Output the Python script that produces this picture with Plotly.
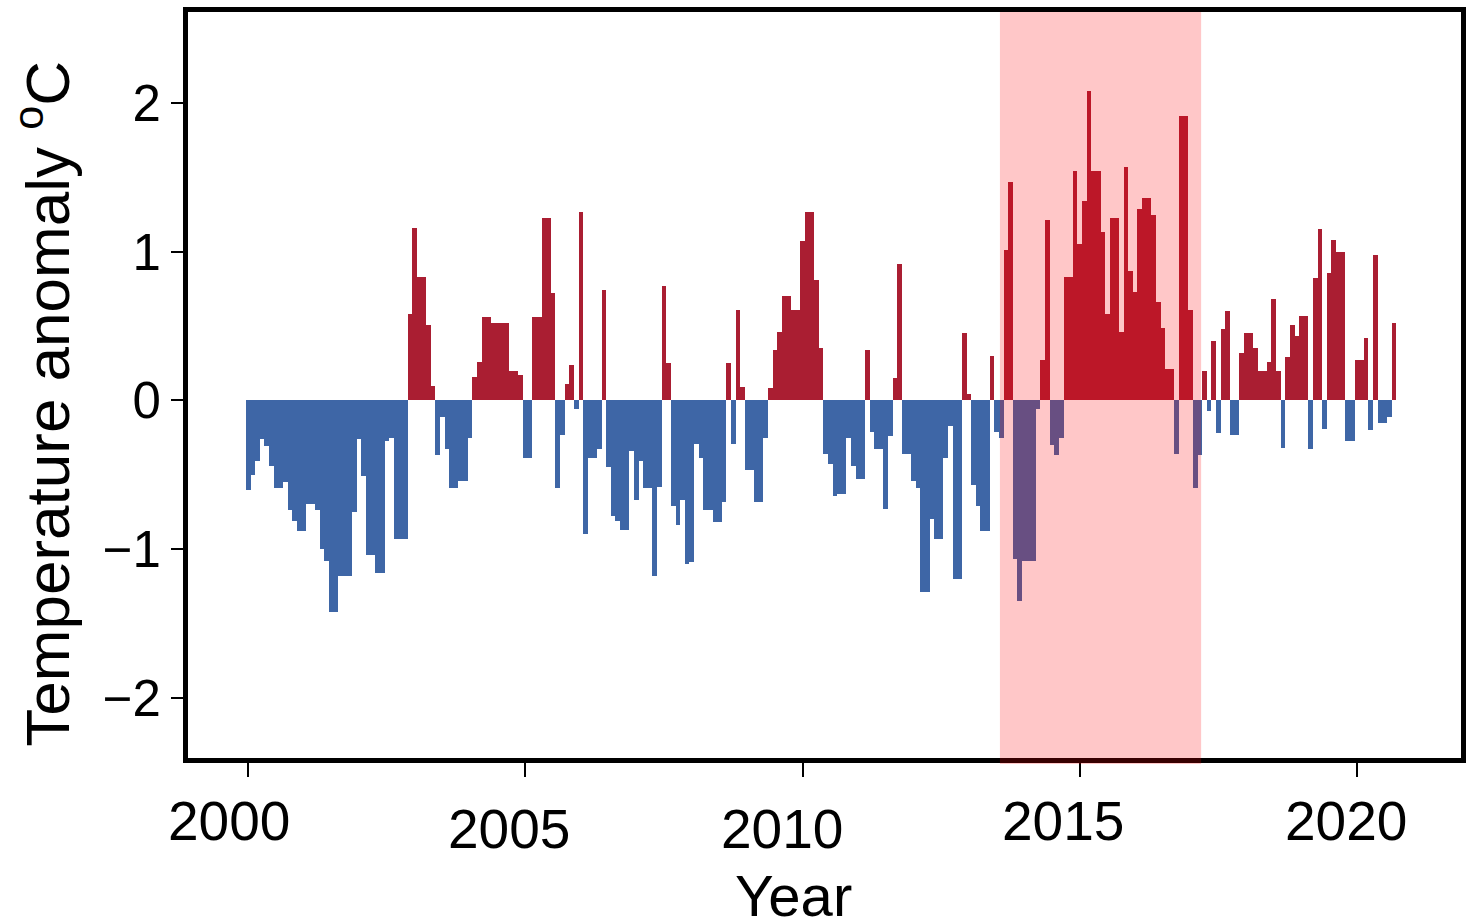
import plotly.graph_objects as go

# ---- data -------------------------------------------------------------
start_year = 2000
# monthly temperature anomaly (deg C), Jan 2000 .. Sep 2020
anomaly = [
    -0.60, -0.50, -0.41, -0.26, -0.31, -0.44, -0.59, -0.59, -0.55, -0.74, -0.81, -0.88,   # 2000
    -0.88, -0.70, -0.70, -0.74, -1.00, -1.08, -1.42, -1.42, -1.18, -1.18, -1.18, -0.75,   # 2001
    -0.26, -0.51, -1.04, -1.04, -1.16, -1.16, -0.27, -0.25, -0.93, -0.93, -0.93, 0.58,    # 2002
    1.16, 0.83, 0.83, 0.51, 0.10, -0.37, -0.11, -0.33, -0.59, -0.59, -0.54, -0.54,        # 2003
    -0.25, 0.16, 0.26, 0.56, 0.56, 0.52, 0.52, 0.52, 0.52, 0.20, 0.20, 0.17,              # 2004
    -0.39, -0.39, 0.56, 0.56, 1.23, 1.23, 0.72, -0.59, -0.23, 0.11, 0.24, -0.06,          # 2005
    1.27, -0.90, -0.39, -0.39, -0.33, 0.74, -0.45, -0.78, -0.81, -0.87, -0.87, -0.34,     # 2006
    -0.67, -0.41, -0.59, -0.59, -1.18, -0.58, 0.77, 0.25, -0.71, -0.84, -0.67, -1.10,     # 2007
    -1.09, -0.29, -0.39, -0.74, -0.74, -0.82, -0.82, -0.68, 0.25, -0.29, 0.61, 0.09,      # 2008
    -0.47, -0.47, -0.68, -0.68, -0.25, 0.08, 0.34, 0.46, 0.70, 0.70, 0.61, 0.61,          # 2009
    1.07, 1.27, 1.27, 0.81, 0.35, -0.36, -0.43, -0.64, -0.63, -0.63, -0.25, -0.44,        # 2010
    -0.53, -0.53, 0.34, -0.21, -0.33, -0.33, -0.73, -0.24, 0.15, 0.92, -0.36, -0.36,      # 2011
    -0.54, -0.59, -1.29, -1.29, -0.80, -0.93, -0.93, -0.39, -0.17, -1.20, -1.20, 0.45,    # 2012
    0.04, -0.57, -0.71, -0.88, -0.88, 0.30, -0.21, -0.25, 1.01, 1.47, -1.07, -1.35,       # 2013
    -1.08, -1.08, -1.08, -0.06, 0.27, 1.21, -0.30, -0.37, -0.25, 0.83, 0.83, 1.54,        # 2014
    1.05, 1.34, 2.08, 1.54, 1.54, 1.13, 0.58, 1.23, 1.23, 0.46, 1.57, 0.87,               # 2015
    0.73, 1.29, 1.36, 1.36, 1.25, 0.66, 0.49, 0.21, 0.21, -0.36, 1.91, 1.91,              # 2016
    0.61, -0.59, -0.37, 0.20, -0.07, 0.40, -0.22, 0.48, 0.60, -0.23, -0.23, 0.32,         # 2017
    0.45, 0.45, 0.35, 0.20, 0.20, 0.26, 0.68, 0.20, -0.32, 0.29, 0.51, 0.43,              # 2018
    0.57, 0.57, -0.33, 0.82, 1.15, -0.19, 0.86, 1.08, 1.00, 1.00, -0.27, -0.27,           # 2019
    0.27, 0.27, 0.42, -0.20, 0.98, -0.15, -0.15, -0.11, 0.52,                             # 2020
]
highlight_period = [2013.56, 2017.19]      # shaded warm period (decimal years)
year_ticks = [2000, 2005, 2010, 2015, 2020]
y_ticks = [-2, -1, 0, 1, 2]
y_tick_text = ["\u22122", "\u22121", "0", "1", "2"]

# ---- styling ----------------------------------------------------------
RED = "#AA1E32"
BLUE = "#3E66A6"
FONT = "Liberation Sans, Arial, sans-serif"

months = [start_year + i / 12 for i in range(len(anomaly))]
colors = [RED if v >= 0 else BLUE for v in anomaly]

fig = go.Figure()
fig.add_trace(go.Bar(
    x=months, y=anomaly, width=1 / 12,
    marker=dict(color=colors, line=dict(width=0)),
    showlegend=False, hoverinfo="x+y",
))

fig.add_shape(type="rect", xref="x", yref="paper",
              x0=highlight_period[0], x1=highlight_period[1], y0=-0.008, y1=1.0,
              fillcolor="rgba(255,0,5,0.22)", line=dict(width=0), layer="above")

# x tick labels (slightly staggered, as in the original)
label_xshift = [-19, -16, -21, -17, -11]
label_yshift = [-63, -71, -71, -63, -63]
for yr, dx, dy in zip(year_ticks, label_xshift, label_yshift):
    fig.add_annotation(x=yr, y=0, xref="x", yref="paper", text=str(yr),
                       showarrow=False, xanchor="center", yanchor="middle",
                       xshift=dx, yshift=dy,
                       font=dict(family=FONT, size=55, color="black"))

fig.add_annotation(x=0.476, y=0, xref="paper", yref="paper", text="Year",
                   showarrow=False, xanchor="center", yanchor="middle", yshift=-137,
                   font=dict(family=FONT, size=58, color="black"))

fig.add_annotation(x=-0.1142, y=0.012, xref="paper", yref="paper",
                   text="Temperature anomaly <sup>o</sup>C", textangle=-90,
                   showarrow=False, xanchor="center", yanchor="bottom",
                   font=dict(family=FONT, size=62, color="black"))

fig.update_layout(
    width=1473, height=924,
    margin=dict(l=188, r=7, t=9, b=166),
    paper_bgcolor="white", plot_bgcolor="white",
    bargap=0,
    font=dict(family=FONT, color="black"),
    xaxis=dict(range=[1998.913, 2021.878], tickvals=year_ticks, showticklabels=False,
               ticks="outside", ticklen=14, tickwidth=2, tickcolor="black",
               showline=True, linewidth=5, linecolor="black", mirror=True,
               showgrid=False, zeroline=False),
    yaxis=dict(range=[-2.405, 2.612], tickvals=y_ticks, ticktext=y_tick_text,
               ticks="outside", ticklen=12, tickwidth=2, tickcolor="black",
               tickfont=dict(family=FONT, size=51, color="black"),
               showline=True, linewidth=5, linecolor="black", mirror=True,
               showgrid=False, zeroline=False),
)

fig.write_html("out.html", config={"displayModeBar": False},
               post_script="document.body.style.margin='0';document.body.style.overflow='hidden';")
